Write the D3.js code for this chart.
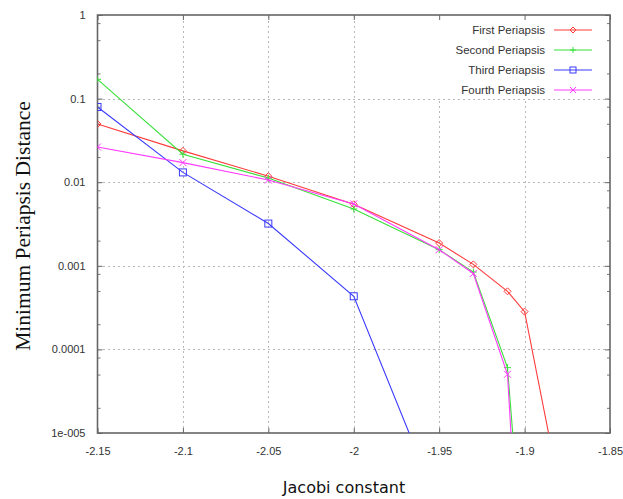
<!DOCTYPE html>
<html>
<head>
<meta charset="utf-8">
<script src="https://cdn.jsdelivr.net/npm/d3@7"></script>
<style>
  html, body { margin: 0; padding: 0; background: #fff; }
  svg { display: block; }
</style>
</head>
<body>
<svg id="chart" width="623" height="499"></svg>
<script>
// ---------- data ----------
const seriesNames = ["First Periapsis", "Second Periapsis", "Third Periapsis", "Fourth Periapsis"];
const firstX  = [-2.15, -2.10, -2.05, -2.00, -1.95, -1.93, -1.91, -1.90, -1.88];
const firstY  = [0.0497, 0.0237, 0.0118, 0.00544, 0.00187, 0.00104, 0.000495, 0.000283, 0.0000024];
const secondX = [-2.15, -2.10, -2.05, -2.00, -1.95, -1.93, -1.91, -1.90];
const secondY = [0.170, 0.0216, 0.0112, 0.00478, 0.00156, 0.000843, 0.0000605, 0.00000016];
const thirdX  = [-2.15, -2.10, -2.05, -2.00, -1.95];
const thirdY  = [0.0794, 0.0131, 0.0032, 0.000432, 0.0000013];
const fourthX = [-2.15, -2.10, -2.05, -2.00, -1.95, -1.93, -1.91, -1.90];
const fourthY = [0.0264, 0.01715, 0.0106, 0.0055, 0.00156, 0.00081, 0.0000504, 0.000000016];
const xTickValues = [-2.15, -2.10, -2.05, -2.00, -1.95, -1.90, -1.85];
const xTickLabels = ["-2.15", "-2.1", "-2.05", "-2", "-1.95", "-1.9", "-1.85"];
const yTickValues = [1, 0.1, 0.01, 0.001, 0.0001, 0.00001];
const yTickLabels = ["1", "0.1", "0.01", "0.001", "0.0001", "1e-005"];
const yMinorFactors = [2, 5, 8];
const xTitle = "Jacobi constant";
const yTitle = "Minimum Periapsis Distance";

// ---------- layout ----------
const L = 97.5, R = 610, T = 15, B = 433;
const colors = ["#ff3a3a", "#3ae03a", "#3a3aff", "#ff3aff"];
const markers = ["diamond", "plus", "square", "cross"];

const svg = d3.select("#chart");
const x = d3.scaleLinear().domain([-2.15, -1.85]).range([L, R]);
const y = d3.scaleLog().domain([1e-5, 1]).range([B, T]);

const series = [
  {name: seriesNames[0], xs: firstX,  ys: firstY},
  {name: seriesNames[1], xs: secondX, ys: secondY},
  {name: seriesNames[2], xs: thirdX,  ys: thirdY},
  {name: seriesNames[3], xs: fourthX, ys: fourthY}
];

svg.append("defs").append("clipPath").attr("id", "clip")
  .append("rect").attr("x", L).attr("y", T).attr("width", R - L).attr("height", B - T);

// grid
const grid = svg.append("g").attr("stroke", "#b8b8b8").attr("stroke-width", 1)
  .attr("stroke-dasharray", "2,3").attr("shape-rendering", "crispEdges");
xTickValues.slice(1, -1).forEach(v => {
  grid.append("line").attr("x1", Math.round(x(v)) + 0.5).attr("x2", Math.round(x(v)) + 0.5)
    .attr("y1", B).attr("y2", T);
});
yTickValues.slice(1, -1).forEach(v => {
  grid.append("line").attr("y1", Math.round(y(v)) + 0.5).attr("y2", Math.round(y(v)) + 0.5)
    .attr("x1", L).attr("x2", R);
});

// legend background (hides grid behind key)
svg.append("rect").attr("x", 432).attr("y", T + 1).attr("width", R - 432 - 1).attr("height", 82)
  .attr("fill", "#fff");

// axes via d3 axis generators
const font = "'Liberation Sans', Arial, sans-serif";
const xAxis = d3.axisBottom(x).tickValues(xTickValues)
  .tickFormat((d, i) => xTickLabels[i]).tickSizeInner(-5).tickSizeOuter(0).tickPadding(14);
const yAxis = d3.axisLeft(y).tickValues(yTickValues)
  .tickFormat((d, i) => yTickLabels[i]).tickSizeInner(-5).tickSizeOuter(0).tickPadding(12);

const gx = svg.append("g").attr("transform", `translate(0,${B})`).call(xAxis);
const gy = svg.append("g").attr("transform", `translate(${L},0)`).call(yAxis);
[gx, gy].forEach(g => {
  g.select(".domain").remove();
  g.selectAll(".tick line").attr("stroke", "#666");
  g.selectAll(".tick text").attr("fill", "#333").style("font-family", font).style("font-size", "11px");
});

// mirrored ticks top/right
const gxt = svg.append("g").attr("transform", `translate(0,${T})`)
  .call(d3.axisTop(x).tickValues(xTickValues).tickSizeInner(-5).tickSizeOuter(0).tickFormat(""));
const gyr = svg.append("g").attr("transform", `translate(${R},0)`)
  .call(d3.axisRight(y).tickValues(yTickValues).tickSizeInner(-5).tickSizeOuter(0).tickFormat(""));
[gxt, gyr].forEach(g => { g.select(".domain").remove(); g.selectAll(".tick line").attr("stroke", "#666"); });

// minor y ticks
const minorVals = [];
yTickValues.slice(1).forEach(base => yMinorFactors.forEach(f => minorVals.push(base * f)));
const gym = svg.append("g").attr("transform", `translate(${L},0)`)
  .call(d3.axisLeft(y).tickValues(minorVals).tickSizeInner(-3).tickSizeOuter(0).tickFormat(""));
const gymr = svg.append("g").attr("transform", `translate(${R},0)`)
  .call(d3.axisRight(y).tickValues(minorVals).tickSizeInner(-3).tickSizeOuter(0).tickFormat(""));
[gym, gymr].forEach(g => { g.select(".domain").remove(); g.selectAll(".tick line").attr("stroke", "#777"); });

// frame
svg.append("rect").attr("x", L).attr("y", T).attr("width", R - L).attr("height", B - T)
  .attr("fill", "none").attr("stroke", "#666").attr("stroke-width", 1.6);

// markers
function drawMarker(g, type, cx, cy, color, s) {
  if (type === "diamond") {
    g.append("path").attr("d", `M${cx},${cy - s}L${cx + s},${cy}L${cx},${cy + s}L${cx - s},${cy}Z`)
      .attr("fill", "none").attr("stroke", color);
  } else if (type === "plus") {
    g.append("path").attr("d", `M${cx - s},${cy}H${cx + s}M${cx},${cy - s}V${cy + s}`)
      .attr("stroke", color);
  } else if (type === "square") {
    g.append("rect").attr("x", cx - s).attr("y", cy - s).attr("width", 2 * s).attr("height", 2 * s)
      .attr("fill", "none").attr("stroke", color);
  } else {
    g.append("path").attr("d", `M${cx - s},${cy - s}L${cx + s},${cy + s}M${cx - s},${cy + s}L${cx + s},${cy - s}`)
      .attr("stroke", color);
  }
}

// lines
const plot = svg.append("g").attr("clip-path", "url(#clip)");
const line = d3.line().x(d => x(d[0])).y(d => y(d[1]));
series.forEach((s, i) => {
  const pts = s.xs.map((xv, j) => [xv, s.ys[j]]);
  plot.append("path").datum(pts).attr("d", line)
    .attr("fill", "none").attr("stroke", colors[i]).attr("stroke-width", 1.1);
  const mg = plot.append("g").attr("stroke-width", 1);
  pts.forEach(p => drawMarker(mg, markers[i], x(p[0]), y(p[1]), colors[i], 3.5));
});

// legend
const leg = svg.append("g");
series.forEach((s, i) => {
  const ly = 30 + i * 20;
  leg.append("text").attr("x", 545).attr("y", ly).attr("dy", "0.35em").attr("text-anchor", "end")
    .attr("fill", "#333").style("font-family", font).style("font-size", "11.5px").text(s.name);
  leg.append("line").attr("x1", 554).attr("x2", 592).attr("y1", ly).attr("y2", ly)
    .attr("stroke", colors[i]).attr("stroke-width", 1.1);
  drawMarker(leg.append("g").attr("stroke-width", 1), markers[i], 573, ly, colors[i], 3);
});

// axis titles
svg.append("text").attr("x", 344).attr("y", 493).attr("text-anchor", "middle")
  .style("font-family", "'DejaVu Sans', Verdana, sans-serif").style("font-size", "16px")
  .attr("fill", "#111").text(xTitle);
svg.append("text").attr("transform", "translate(30,226) rotate(-90)").attr("text-anchor", "middle")
  .style("font-family", "'Liberation Serif', 'Times New Roman', serif").style("font-size", "21.5px")
  .attr("fill", "#111").text(yTitle);
</script>
</body>
</html>
